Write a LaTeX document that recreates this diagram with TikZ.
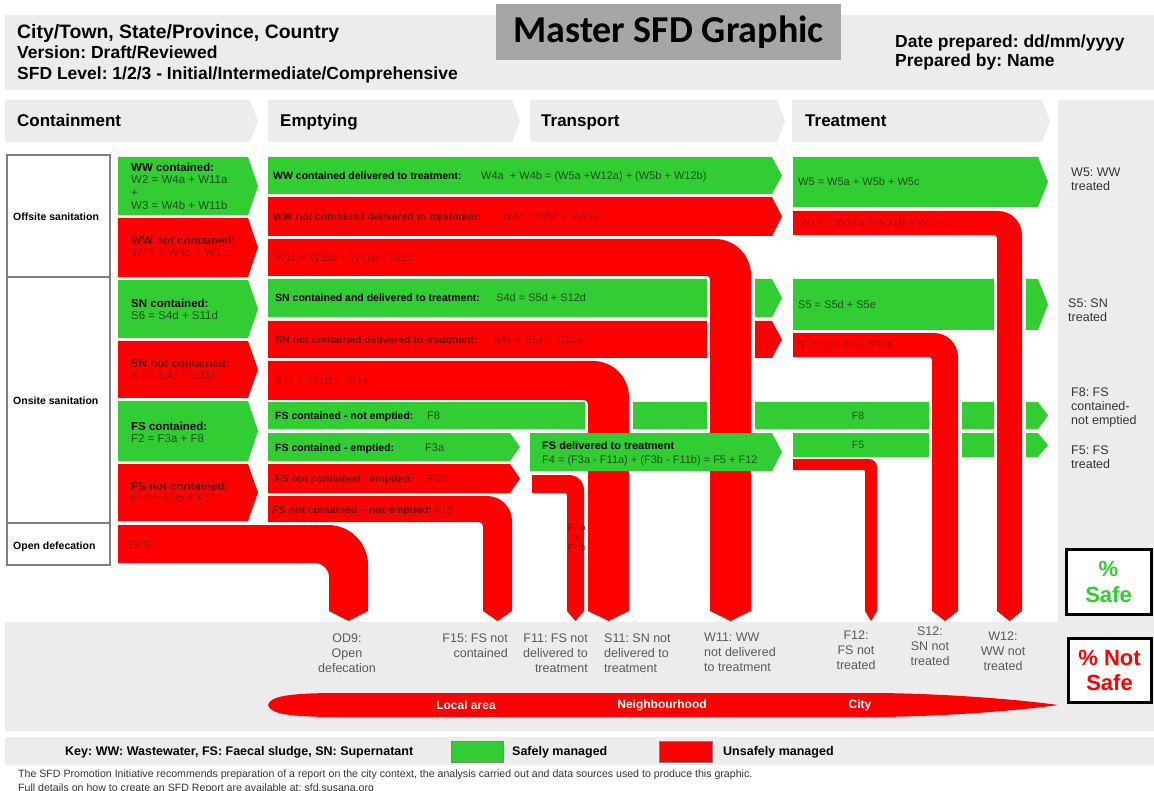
\documentclass[tikz,border=0pt]{standalone}
\usepackage{fontspec}
\setmainfont{Liberation Sans}
\newfontfamily\titlefont{Carlito}
\frenchspacing
\definecolor{sgreen}{RGB}{50,205,50}
\definecolor{sred}{RGB}{255,0,0}
\definecolor{hgray}{RGB}{236,236,236}
\definecolor{tgray}{RGB}{166,166,166}
\definecolor{redlbl}{RGB}{100,0,0}
\definecolor{redval}{RGB}{165,0,0}
\definecolor{grnval}{RGB}{30,80,30}
\definecolor{boxline}{RGB}{128,128,128}
\newcommand{\fsz}[2]{\fontsize{#1}{#2}\selectfont}
% chevron band: colour, x0, ytop, ybot, xtip
\newcommand{\chevband}[5]{\fill[#1] (#2,#3) -- ({#5-10},#3) -- (#5,{(#3+#4)/2}) -- ({#5-10},#4) -- (#2,#4) -- cycle;}
% bend: colour, x0, ytop, ybot, xin, xout, yend, R, r
\newcommand{\bendband}[9]{%
  \fill[white] ({#5-3.5},{#4+1}) rectangle ({#6+3.5},{#7+10});
  \fill[#1] (#2,#3) -- ({#6-#8},#3)
     .. controls ({#6-0.4477*#8},#3) and (#6,{#3+0.4477*#8}) .. (#6,{#3+#8})
     -- (#6,#7) -- ({(#5+#6)/2},{#7+10}) -- (#5,#7)
     -- (#5,{#4+#9}) .. controls (#5,{#4+0.4477*#9}) and ({#5-0.4477*#9},#4) .. ({#5-#9},#4)
     -- (#2,#4) -- cycle;}
\tikzset{
  hdr/.style={anchor=base west, inner sep=0, font=\bfseries\fsz{17.5}{20}},
  stagetxt/.style={anchor=base west, inner sep=0, font=\bfseries\fsz{17}{20}},
  tier/.style={anchor=base west, inner sep=0, font=\bfseries\fsz{10.5}{12}},
  contg/.style={anchor=north west, inner sep=0, align=left, font=\fsz{11.5}{12.7}, text=grnval},
  contr/.style={anchor=north west, inner sep=0, align=left, font=\fsz{11.5}{12.7}, text=redval},
  glbl/.style={anchor=base west, inner sep=0, font=\bfseries\fsz{10.5}{12}, text=black},
  gval/.style={anchor=base west, inner sep=0, font=\fsz{11}{13}, text=grnval},
  rlbl/.style={anchor=base west, inner sep=0, font=\bfseries\fsz{10.5}{12}, text=redlbl},
  rval/.style={anchor=base west, inner sep=0, font=\fsz{11}{13}, text=redval},
  rcol/.style={anchor=north west, inner sep=0, align=left, font=\fsz{12.5}{14}, text=black!80},
  bot/.style={inner sep=0, font=\fsz{12.5}{15}, text=black!65},
  lens/.style={inner sep=0, font=\bfseries\fsz{12}{14}, text=white},
  keytxt/.style={anchor=base west, inner sep=0, font=\bfseries\fsz{12.5}{14}},
  foot/.style={anchor=base west, inner sep=0, font=\fsz{10.6}{12}, text=black!80}
}
\begin{document}
\begin{tikzpicture}[x=1pt,y=-1pt]
\useasboundingbox (0,0) rectangle (1154,791);
\fill[white] (0,0) rectangle (1154,791);

% ---------- header ----------
\fill[hgray] (5,15) rectangle (1154,90);
\fill[tgray] (496,4) rectangle (841,60);
\node[inner sep=0, font=\titlefont\bfseries\fsz{38}{40}] (title) at (668.5,32) {Master SFD Graphic};
\node[hdr, font=\bfseries\fsz{19.4}{21}] (city) at (17,38.5) {City/Town, State/Province, Country};
\node[hdr] (version) at (17,58.5) {Version: Draft/Reviewed};
\node[hdr] (level) at (17,79.5) {SFD Level: 1/2/3 - Initial/Intermediate/Comprehensive};
\node[hdr] (date) at (895,48) {Date prepared: dd/mm/yyyy};
\node[hdr] (prep) at (895,67) {Prepared by: Name};

% ---------- stage headers ----------
\fill[hgray] (5,100) -- (250,100) -- (258,121) -- (250,142) -- (5,142) -- cycle;
\fill[hgray] (268,100) -- (512,100) -- (520,121) -- (512,142) -- (268,142) -- cycle;
\fill[hgray] (530,100) -- (777,100) -- (785,121) -- (777,142) -- (530,142) -- cycle;
\fill[hgray] (792,100) -- (1042,100) -- (1050,121) -- (1042,142) -- (792,142) -- cycle;
\fill[hgray] (1058,100) rectangle (1154,622);
\node[stagetxt] (containment) at (17,127) {Containment};
\node[stagetxt] (emptying) at (280,127) {Emptying};
\node[stagetxt] (transport) at (541,127) {Transport};
\node[stagetxt] (treatment) at (805,127) {Treatment};

% ---------- tier boxes ----------
\draw[boxline, line width=1.5, fill=white] (7,155) rectangle (110,277);
\draw[boxline, line width=1.5, fill=white] (7,277) rectangle (110,523);
\draw[boxline, line width=1.5, fill=white] (7,523) rectangle (110,565);
\node[tier] (offsite) at (13,221) {Offsite sanitation};
\node[tier] (onsite) at (13,405) {Onsite sanitation};
\node[tier] (opendef) at (13,549) {Open defecation};

% ---------- containment chevrons ----------
\chevband{sgreen}{118}{157}{215}{258}
\chevband{sred}{118}{218}{277}{258}
\chevband{sgreen}{118}{280}{338}{258}
\chevband{sred}{118}{341}{398}{258}
\chevband{sgreen}{118}{401}{461}{258}
\chevband{sred}{118}{464}{521}{258}

% ---------- emptying / transport / treatment bands ----------
\chevband{sgreen}{268}{157}{194}{782}
\chevband{sred}{268}{197}{236}{782}
\chevband{sgreen}{268}{279}{317}{782}
\chevband{sred}{268}{321}{358}{782}
\chevband{sgreen}{268}{402}{429}{1048}
\chevband{sgreen}{268}{433}{461}{520}
\chevband{sred}{268}{464}{493}{520}
\chevband{sgreen}{793}{157}{207}{1048}
\chevband{sgreen}{793}{279}{330}{1048}
\chevband{sgreen}{793}{433}{457}{1048}

% ---------- bends (unsafe flows going down) ----------
\bendband{sred}{118}{525}{563}{329}{368}{611}{40}{14}
\bendband{sred}{268}{496}{522}{483}{512}{611}{25}{4}
\bendband{sred}{532}{475}{493}{567}{584}{611}{15}{2}
\bendband{sred}{268}{361}{400}{588}{629}{611}{36}{4}
\bendband{sred}{268}{239}{276}{710}{751}{611}{36}{3}
\bendband{sred}{793}{459}{470}{865}{877}{611}{8}{1}
\bendband{sred}{793}{333}{357}{932}{958}{611}{24}{3}
\bendband{sred}{793}{211}{235}{997}{1022}{611}{24}{3}

% FS delivered to treatment lies over the vertical flows
\chevband{sgreen}{530}{433}{471}{782}

% ---------- containment texts ----------
\node[contg] (wwc) at (131,162.5) {{\bfseries\color{black}WW contained:}\\W2 = W4a + W11a\\+\\W3 = W4b + W11b};
\node[contr] (wwnc) at (131,235.6) {{\bfseries\color{redlbl}WW not contained:}\\W15 = W4c + W11c};
\node[contg] (snc) at (131,298.6) {{\bfseries\color{black}SN contained:}\\S6 = S4d + S11d};
\node[contr] (snnc) at (131,358.6) {{\bfseries\color{redlbl}SN not contained:}\\S7 = S4e + S11e};
\node[contg] (fsc) at (131,421.6) {{\bfseries\color{black}FS contained:}\\F2 = F3a + F8};
\node[contr] (fsnc) at (131,481.6) {{\bfseries\color{redlbl}FS not contained:}\\F10 = F3b + F15};
\node[rval] (od9) at (129,548) {OD9};

% ---------- band texts ----------
\node[glbl] (wwdel) at (273,179.5) {WW contained delivered to treatment:};
\node[gval] (wwdelv) at (481,179.5) {W4a \ + W4b = (W5a +W12a) + (W5b + W12b)};
\node[rlbl] (wwndel) at (273,220.5) {WW not contained delivered to treatment:};
\node[rval] (wwndelv) at (502,220.5) {W4c = W5c + W12c};
\node[rval] (w11) at (275,261.5) {W11 = W11a + W11b + W11c};
\node[glbl] (sndel) at (275,302) {SN contained and delivered to treatment:};
\node[gval] (sndelv) at (496,302) {S4d = S5d + S12d};
\node[rlbl] (snndel) at (275,343.5) {SN not contained delivered to treatment:};
\node[rval] (snndelv) at (493,343.5) {S4e = S5e + S12e};
\node[rval] (s11) at (275,384.5) {S11 = S11d + S11e};
\node[glbl] (f8l) at (275,419.5) {FS contained - not emptied:};
\node[gval] (f8v) at (427,419.5) {F8};
\node[glbl] (f3al) at (275,451) {FS contained - emptied:};
\node[gval] (f3av) at (425,451) {F3a};
\node[rlbl] (f3bl) at (275,482.5) {FS not contained - emptied:};
\node[rval] (f3bv) at (427,482.5) {F3b};
\node[rlbl] (f15l) at (272,513) {FS not contained -- not emptied: {\mdseries\color{redval}F15}};
\node[anchor=north west, inner sep=0, align=left, font=\fsz{11}{14}, text=grnval] (fsdel) at (542,441) {{\bfseries\color{black}FS delivered to treatment}\\F4 = (F3a - F11a) + (F3b - F11b) = F5 + F12};
\node[inner sep=0, align=center, font=\fsz{8}{10}, text=black!85] (f11ab) at (577,538) {F11a\\+\\F11b};
\node[gval] (w5v) at (798,186) {W5 = W5a + W5b + W5c};
\node[rval] (w12v) at (800,227) {W12 = W12a + W12b + W12c};
\node[gval] (s5v) at (798,308.5) {S5 = S5d + S5e};
\node[rval] (s12v) at (797,349) {S12 = S12d + S12e};
\node[inner sep=0, anchor=base, font=\fsz{10.5}{12}, text=grnval] (f8t) at (858,419.5) {F8};
\node[inner sep=0, anchor=base, font=\fsz{10.5}{12}, text=grnval] (f5t) at (858,449) {F5};

% ---------- right column ----------
\node[rcol] (w5lab) at (1071,167.5) {W5: WW\\treated};
\node[rcol] (s5lab) at (1068,298.5) {S5: SN\\treated};
\node[rcol] (f8lab) at (1071,387.5) {F8: FS\\contained-\\not emptied};
\node[rcol] (f5lab) at (1071,445.5) {F5: FS\\treated};
\draw[line width=3, fill=white] (1066,549) rectangle (1151,614);
\node[inner sep=0, align=center, font=\bfseries\fsz{22}{26}, text=sgreen] (safe) at (1108.5,581.5) {\%\\Safe};

% ---------- bottom band ----------
\fill[hgray] (5,622) rectangle (1154,731);
\draw[line width=3, fill=white] (1068,638) rectangle (1151,702);
\node[inner sep=0, align=center, font=\bfseries\fsz{22}{25}, text=sred] (notsafe) at (1109.5,670) {\% Not\\Safe};
\node[bot, anchor=north, align=center] (od9lab) at (347,634) {OD9:\\Open\\defecation};
\node[bot, anchor=north east, align=right] (f15lab) at (508,634) {F15: FS not\\contained};
\node[bot, anchor=north east, align=right] (f11lab) at (588,634) {F11: FS not\\delivered to\\treatment};
\node[bot, anchor=north west, align=left] (s11lab) at (604,634) {S11: SN not\\delivered to\\treatment};
\node[bot, anchor=north west, align=left] (w11lab) at (704,633) {W11: WW\\not delivered\\to treatment};
\node[bot, anchor=north, align=center] (f12lab) at (856,631) {F12:\\FS not\\treated};
\node[bot, anchor=north, align=center] (s12lab) at (930,627) {S12:\\SN not\\treated};
\node[bot, anchor=north, align=center] (w12lab) at (1003,632) {W12:\\WW not\\treated};

\fill[sred] (268,705) .. controls (270,696) and (290,693) .. (340,693) -- (880,693)
  .. controls (960,694) and (1030,701) .. (1058,705)
  .. controls (1030,709) and (960,716) .. (880,717) -- (340,717)
  .. controls (290,717) and (270,714) .. (268,705) -- cycle;
\node[lens] (local) at (466,705) {Local area};
\node[lens] (neigh) at (662,705) {Neighbourhood};
\node[lens] (cityl) at (860,705) {City};

% ---------- key ----------
\fill[hgray] (5,737) rectangle (1154,765);
\node[keytxt] (key) at (65,755.5) {Key: WW: Wastewater, FS: Faecal sludge, SN: Supernatant};
\draw[black!50, fill=sgreen] (451,741) rectangle (503,762);
\node[keytxt] (safely) at (512,755.5) {Safely managed};
\draw[black!50, fill=sred] (659,741) rectangle (712,762);
\node[keytxt] (unsafely) at (723,755.5) {Unsafely managed};

% ---------- footer ----------
\node[foot] (foot1) at (18,777) {The SFD Promotion Initiative recommends preparation of a report on the city context, the analysis carried out and data sources used to produce this graphic.};
\node[foot] (foot2) at (18,791) {Full details on how to create an SFD Report are available at: sfd.susana.org};
\end{tikzpicture}
\end{document}
